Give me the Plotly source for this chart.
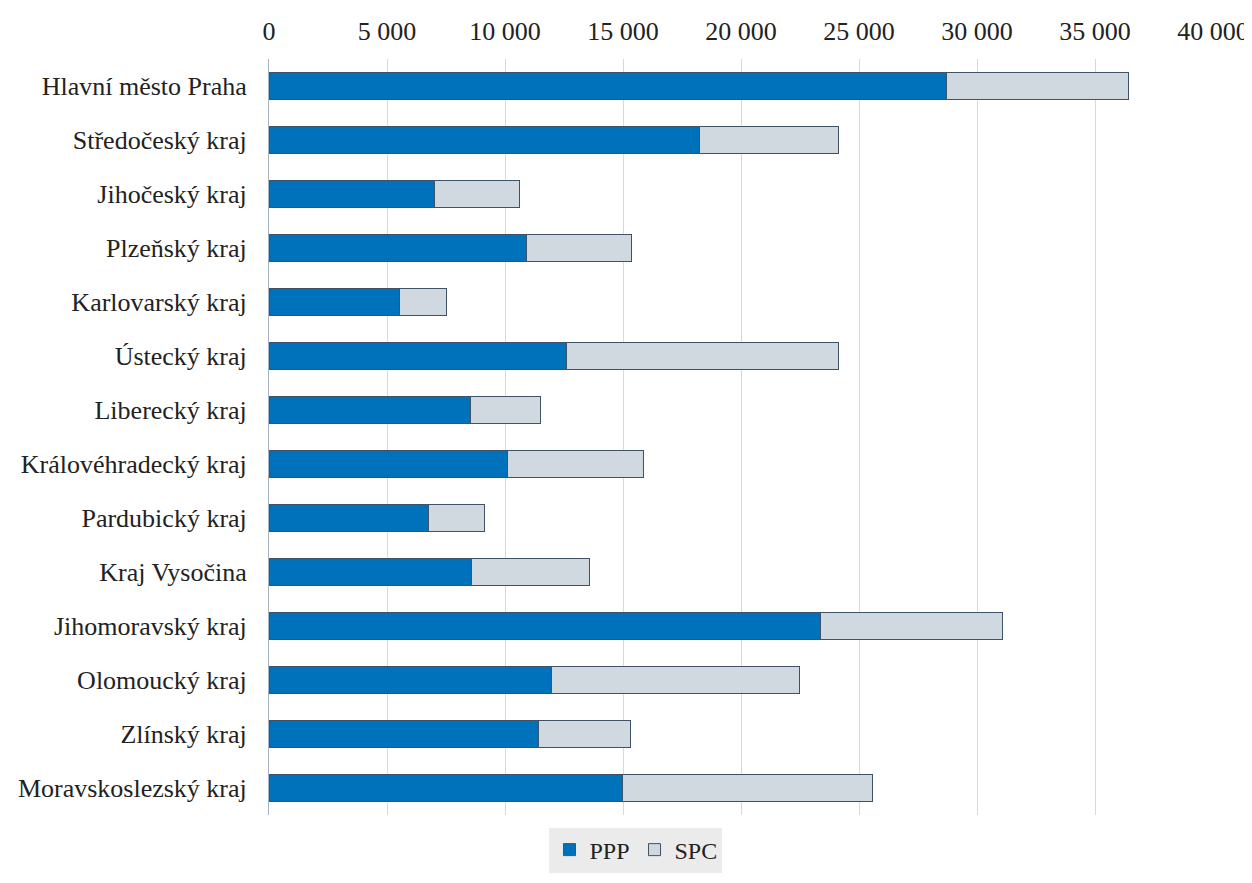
import plotly.graph_objects as go

regions = ["Hlavní město Praha", "Středočeský kraj", "Jihočeský kraj", "Plzeňský kraj",
           "Karlovarský kraj", "Ústecký kraj", "Liberecký kraj", "Královéhradecký kraj",
           "Pardubický kraj", "Kraj Vysočina", "Jihomoravský kraj", "Olomoucký kraj",
           "Zlínský kraj", "Moravskoslezský kraj"]
ppp = [28690, 18260, 7030, 10890, 5550, 12590, 8520, 10090, 6740, 8600, 23350, 11990, 11400, 14960]
spc = [7710, 5890, 3600, 4450, 1950, 11520, 3000, 5760, 2370, 4960, 7710, 10470, 3900, 10630]

font = "Liberation Serif, Times New Roman, serif"
line = dict(color="#3f5268", width=1)

fig = go.Figure()
fig.add_trace(go.Bar(y=regions, x=ppp, orientation="h", name="PPP",
                     marker=dict(color="#0072bb", line=line)))
fig.add_trace(go.Bar(y=regions, x=spc, orientation="h", name="SPC",
                     marker=dict(color="#d0d8e0", line=line)))

fig.update_layout(
    barmode="stack", bargap=0.5,
    width=1244, height=875,
    margin=dict(l=261, r=39, t=51, b=68),
    paper_bgcolor="white", plot_bgcolor="white",
    separators=", ",
    font=dict(family=font, size=26, color="#222222"),
    xaxis=dict(side="top", range=[0, 40000], dtick=5000, tickformat=",d",
               showgrid=True, gridcolor="#d9d9d9", gridwidth=1, zeroline=False,
               ticks="", automargin=False, ticklabelstandoff=13,
               tickfont=dict(size=26, family=font, color="#222222")),
    yaxis=dict(autorange="reversed", showline=True, linecolor="#a8b4c4", linewidth=1,
               ticks="", ticklabelstandoff=16, automargin=False,
               tickfont=dict(size=26, family=font, color="#222222")),
    legend=dict(orientation="h", xref="container", yref="container",
                x=0.5048, xanchor="center", y=0.0377, yanchor="middle",
                bgcolor="#ebebeb", font=dict(size=24, family=font, color="#222222"),
                itemwidth=30, traceorder="normal"),
)

fig.write_html("out.html")
